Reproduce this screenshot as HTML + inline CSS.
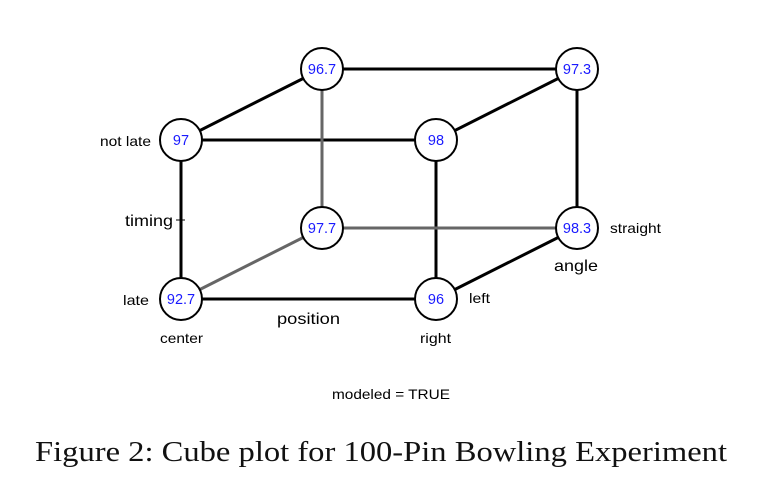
<!DOCTYPE html>
<html><head><meta charset="utf-8"><style>
body{margin:0;background:#fff;width:760px;height:492px;overflow:hidden}
svg{display:block;font-family:"Liberation Sans",sans-serif}
</style></head><body>
<svg id="c" width="760" height="492">
<text x="35" y="461" textLength="692" lengthAdjust="spacingAndGlyphs" font-family="Liberation Serif, serif" font-size="28" fill="#111">Figure 2: Cube plot for 100-Pin Bowling Experiment</text>
</svg>
<script>
// corners: [position(0=center,1=right), timing(0=late,1=not late), angle(0=left,1=straight)]
const corners = [[0,0,0],[1,0,0],[0,1,0],[1,1,0],[0,0,1],[1,0,1],[0,1,1],[1,1,1]];
const values = ["92.7","96","97","98","97.7","98.3","96.7","97.3"];
const NS="http://www.w3.org/2000/svg";
const svg=document.getElementById('c');
function px(p,a){return 181+p*255+a*141;}
function py(t,a){return 299-t*159-a*71;}
function mk(tag,at){const e=document.createElementNS(NS,tag);for(const k in at)e.setAttribute(k,at[k]);svg.appendChild(e);return e;}
for(let i=0;i<8;i++)for(let j=i+1;j<8;j++){
 const a=corners[i],b=corners[j];
 const d=Math.abs(a[0]-b[0])+Math.abs(a[1]-b[1])+Math.abs(a[2]-b[2]);
 if(d!==1)continue;
 const hidden=(a[0]===0&&a[1]===0&&a[2]===1)||(b[0]===0&&b[1]===0&&b[2]===1);
 const l=mk('line',{x1:px(a[0],a[2]),y1:py(a[1],a[2]),x2:px(b[0],b[2]),y2:py(b[1],b[2]),stroke:hidden?'#666':'#000','stroke-width':3});
 
 
}
for(let i=0;i<8;i++){
 const c=corners[i],x=px(c[0],c[2]),y=py(c[1],c[2]);
 const ci=mk('circle',{cx:x,cy:y,r:21,fill:'#fff',stroke:'#000','stroke-width':2});
 
 
 const t=mk('text',{x:x,y:y+5,'text-anchor':'middle','font-size':14.5,fill:'#1a1aff'});
 t.textContent=values[i];
 
 
}
const labels=[["not late",100,146,51,14,"timing-high-label"],["late",123,305,26,14,"timing-low-label"],["timing",125,226,48,16,"timing-axis-title"],
["center",160,343,43,14,"position-low-label"],["right",420,343,31,14,"position-high-label"],["position",277,324,63,16,"position-axis-title"],
["left",469,303,21,14,"angle-low-label"],["straight",610,233,51,14,"angle-high-label"],["angle",554,271,44,16,"angle-axis-title"],
["modeled = TRUE",332,399,118,14,"model-note"]];
for(const L of labels){
 const t=mk('text',{x:L[1],y:L[2],textLength:L[3],lengthAdjust:'spacingAndGlyphs','font-size':L[4],fill:'#000'});
 t.textContent=L[0];
 
 
}
const tk=mk('line',{x1:176,y1:220,x2:185,y2:220,stroke:'#000','stroke-width':1});


</script>
</body></html>
